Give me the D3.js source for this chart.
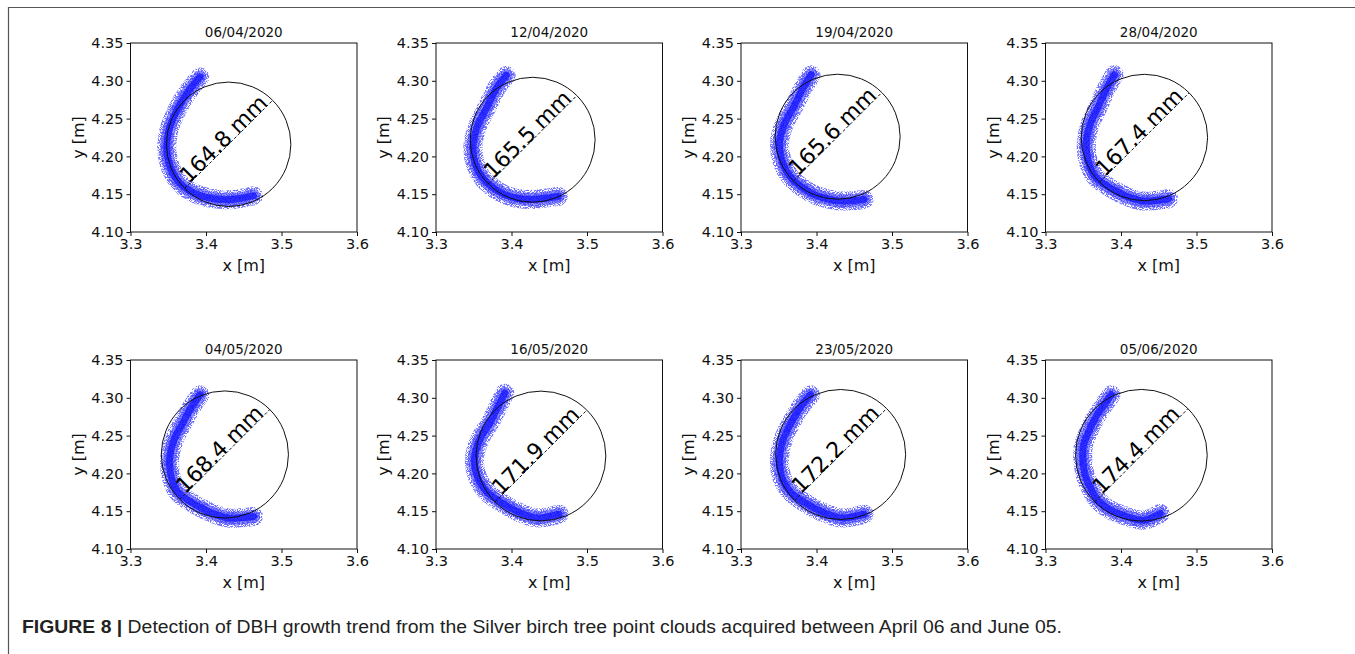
<!DOCTYPE html>
<html><head><meta charset="utf-8">
<script src="https://cdn.jsdelivr.net/npm/d3@7"></script>
<style>body{margin:0;background:#fff} text{font-family:"DejaVu Sans",sans-serif}</style>
</head><body>
<svg id="c" width="1355" height="654"></svg>
<script>
// ---- data ----
const dates = ["06/04/2020","12/04/2020","19/04/2020","28/04/2020","04/05/2020","16/05/2020","23/05/2020","05/06/2020"];
const diameters = [164.8, 165.5, 165.6, 167.4, 168.4, 171.9, 172.2, 174.4]; // mm
const centerX = [3.430, 3.428, 3.428, 3.431, 3.425, 3.439, 3.432, 3.427];
const centerY = [4.216, 4.222, 4.226, 4.225, 4.225, 4.223, 4.225, 4.224];
const xTicks = [3.3, 3.4, 3.5, 3.6];
const yTicks = [4.10, 4.15, 4.20, 4.25, 4.30, 4.35];
// point-cloud ridge (centre line of the scanned stem arc) for each date
const cloudX = [
  [3.392,3.378,3.362,3.351,3.348,3.353,3.365,3.385,3.410,3.435,3.463],
  [3.393,3.380,3.368,3.355,3.349,3.352,3.363,3.386,3.405,3.425,3.462],
  [3.393,3.382,3.370,3.357,3.351,3.355,3.366,3.392,3.410,3.430,3.463],
  [3.391,3.381,3.370,3.359,3.354,3.357,3.367,3.397,3.413,3.430,3.463],
  [3.392,3.381,3.370,3.358,3.352,3.354,3.363,3.394,3.412,3.430,3.463],
  [3.391,3.383,3.372,3.358,3.351,3.355,3.368,3.399,3.416,3.434,3.463],
  [3.392,3.379,3.367,3.356,3.351,3.354,3.366,3.397,3.415,3.434,3.463],
  [3.387,3.377,3.367,3.357,3.350,3.352,3.360,3.369,3.385,3.402,3.429,3.452]
];
const cloudY = [
  [4.305,4.288,4.262,4.235,4.210,4.185,4.165,4.151,4.144,4.143,4.148],
  [4.307,4.290,4.266,4.240,4.215,4.190,4.170,4.152,4.145,4.143,4.147],
  [4.308,4.290,4.266,4.242,4.218,4.192,4.172,4.152,4.145,4.141,4.143],
  [4.308,4.290,4.266,4.242,4.218,4.192,4.172,4.152,4.145,4.141,4.144],
  [4.304,4.288,4.268,4.245,4.220,4.195,4.175,4.154,4.146,4.141,4.143],
  [4.306,4.290,4.268,4.245,4.220,4.195,4.175,4.154,4.146,4.141,4.146],
  [4.304,4.288,4.268,4.245,4.220,4.195,4.175,4.154,4.146,4.141,4.146],
  [4.304,4.290,4.275,4.255,4.235,4.200,4.180,4.165,4.152,4.145,4.138,4.147]
];
const captionBold = "FIGURE 8 |";
const captionText = " Detection of DBH growth trend from the Silver birch tree point clouds acquired between April 06 and June 05.";

// ---- layout ----
const svg = d3.select("#c");
const defs = svg.append("defs");
const f = defs.append("filter").attr("id","speckle").attr("x","-20%").attr("y","-20%").attr("width","140%").attr("height","140%");
f.append("feTurbulence").attr("type","fractalNoise").attr("baseFrequency","1.1").attr("numOctaves",1).attr("seed",7).attr("result","n");
f.append("feColorMatrix").attr("in","n").attr("type","matrix")
  .attr("values","0 0 0 0 0  0 0 0 0 0  0 0 0 0 0  9 0 0 0 -4.0").attr("result","m");
f.append("feComposite").attr("in","SourceGraphic").attr("in2","m").attr("operator","in");

svg.append("path").attr("d","M8.5,654 V7.5 H1355").attr("fill","none")
  .attr("stroke","#555").attr("stroke-width",1.2);

const axLeft = [130.5, 436, 741, 1045.5];
const axTop = [43, 360];
const W = 226.5, H = 189;

dates.forEach((d, i) => {
  const col = i % 4, row = Math.floor(i / 4);
  const g = svg.append("g").attr("transform", `translate(${axLeft[col]},${axTop[row]})`);
  const x = d3.scaleLinear().domain([3.3, 3.6]).range([0, W]);
  const y = d3.scaleLinear().domain([4.10, 4.35]).range([H, 0]);

  const clipId = "clip" + i;
  defs.append("clipPath").attr("id", clipId).append("rect").attr("width", W).attr("height", H);
  const plot = g.append("g").attr("clip-path", `url(#${clipId})`);

  const pts = cloudX[i].map((v, k) => [v, cloudY[i][k]]);
  const line = d3.line().x(p => x(p[0])).y(p => y(p[1])).curve(d3.curveCatmullRom.alpha(0.5));
  plot.append("path").attr("d", line(pts)).attr("fill","none")
    .attr("stroke","#4040ff").attr("stroke-width",19).attr("stroke-linecap","round")
    .attr("stroke-opacity",0.75).attr("filter","url(#speckle)");
  plot.append("path").attr("d", line(pts)).attr("fill","none")
    .attr("stroke","#3333ff").attr("stroke-width",13).attr("stroke-linecap","round")
    .attr("stroke-opacity",0.55);
  plot.append("path").attr("d", line(pts)).attr("fill","none")
    .attr("stroke","#0a0aff").attr("stroke-width",7).attr("stroke-linecap","round")
    .attr("stroke-opacity",0.7);

  const cx = x(centerX[i]), cy = y(centerY[i]);
  const r = x(centerX[i] + diameters[i] / 2000) - cx;
  plot.append("circle").attr("cx", cx).attr("cy", cy).attr("r", r)
    .attr("fill","none").attr("stroke","#111").attr("stroke-width",1);
  const k = r * Math.SQRT1_2;
  plot.append("line").attr("x1", cx - k).attr("y1", cy + k).attr("x2", cx + k).attr("y2", cy - k)
    .attr("stroke","#111").attr("stroke-width",1).attr("stroke-dasharray","3,2");
  g.append("text").attr("transform", `translate(${cx},${cy}) rotate(-45)`)
    .attr("text-anchor","middle").attr("dy", 0).attr("font-size", 22).attr("fill","#000")
    .text(diameters[i].toFixed(1) + " mm");

  // axes
  const xa = g.append("g").attr("transform", `translate(0,${H})`)
    .call(d3.axisBottom(x).tickValues(xTicks).tickFormat(d3.format(".1f")).tickSize(4).tickPadding(3));
  const ya = g.append("g")
    .call(d3.axisLeft(y).tickValues(yTicks).tickFormat(d3.format(".2f")).tickSize(4).tickPadding(3));
  [xa, ya].forEach(a => {
    a.select(".domain").remove();
    a.selectAll("text").attr("font-size", 14.5).attr("font-family","DejaVu Sans").attr("fill","#111");
    a.selectAll("line").attr("stroke","#111");
  });
  g.append("rect").attr("width", W).attr("height", H).attr("fill","none")
    .attr("stroke","#111").attr("stroke-width",1);

  g.append("text").attr("x", W / 2).attr("y", -6).attr("text-anchor","middle")
    .attr("font-size", 13.5).attr("fill","#111").text(d);
  g.append("text").attr("x", W / 2).attr("y", H + 39).attr("text-anchor","middle")
    .attr("font-size", 16).attr("fill","#111").text("x [m]");
  g.append("text").attr("transform", `translate(-47,${H / 2}) rotate(-90)`).attr("text-anchor","middle")
    .attr("font-size", 16).attr("fill","#111").text("y [m]");
});

const cap = svg.append("text").attr("x", 22).attr("y", 633)
  .style("font-family", "'Liberation Sans', Arial, sans-serif").attr("font-size", 17.5).attr("fill","#222")
  .attr("textLength", 1040).attr("lengthAdjust", "spacingAndGlyphs");
cap.append("tspan").attr("font-weight","bold").text(captionBold);
cap.append("tspan").text(captionText);
</script>
</body></html>
